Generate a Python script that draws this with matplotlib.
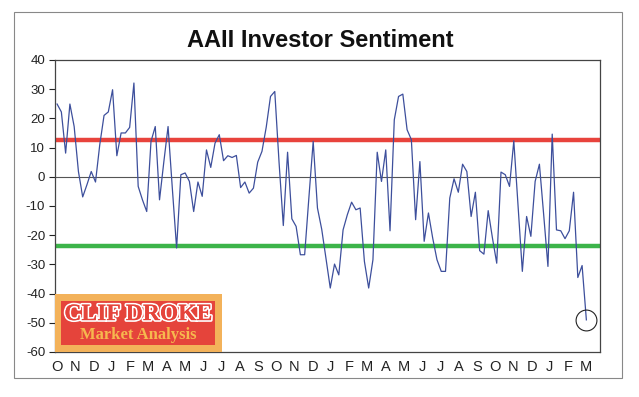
import matplotlib
matplotlib.use("Agg")
import matplotlib.pyplot as plt
import matplotlib.patches as patches
import matplotlib.patheffects as pe
import numpy as np

plt.rcParams['font.family'] = ['Liberation Sans', 'DejaVu Sans']
plt.rcParams['axes.unicode_minus'] = False

# weekly AAII bull-bear spread
sentiment = [
    24.9, 22.2, 8.1, 24.9, 17.2, 1.8, -6.9, -2.7, 1.8, -1.8,
    11.0, 21.0, 22.2, 29.8, 7.2, 15.0, 15.0, 16.9, 32.1, -3.3,
    -7.9, -11.9, 12.1, 17.2, -7.9, 5.0, 17.2, -4.0, -24.4, 0.7,
    1.3, -1.6, -11.9, -1.8, -6.7, 9.2, 3.2, 11.5, 14.4, 5.5,
    7.2, 6.6, 7.3, -3.7, -1.8, -5.6, -3.9, 5.0, 8.7, 17.0,
    27.5, 29.2, 5.0, -16.7, 8.4, -14.4, -17.0, -26.7, -26.7, -7.0,
    12.1, -10.7, -18.0, -28.0, -38.1, -29.9, -33.6, -18.2, -13.0, -8.7,
    -11.3, -10.7, -29.0, -38.1, -28.4, 8.4, -1.6, 9.2, -18.5, 19.5,
    27.5, 28.3, 16.1, 12.7, -14.7, 5.2, -22.1, -12.4, -21.0, -28.4,
    -32.4, -32.4, -7.3, -0.7, -5.3, 4.3, 1.8, -13.6, -5.3, -25.3,
    -26.5, -11.6, -21.0, -29.6, 1.6, 0.7, -3.3, 12.3, -10.0, -32.4,
    -13.6, -20.4, -1.6, 4.3, -13.0, -30.7, 14.6, -18.2, -18.5, -21.2,
    -18.5, -5.3, -34.5, -30.4, -49.0,
]
months = list("ONDJFMAMJJASONDJFMAMJJASONDJFM")
upper_band = 12.6
lower_band = -23.7

fig = plt.figure(figsize=(6.39, 3.97), dpi=100)
ax = fig.add_axes([0.086, 0.1134, 0.853, 0.7356])

weeks = np.arange(len(sentiment))
ax.axhline(0, color='#555555', lw=0.8, zorder=1)
ax.axhline(upper_band, color='#e8433c', lw=3.2, zorder=2)
ax.axhline(lower_band, color='#3cb44a', lw=3.2, zorder=2)
ax.plot(weeks, sentiment, color='#3d4f9c', lw=0.9, zorder=3)
ax.plot(weeks[-1:], sentiment[-1:], 'o', ms=15, mfc='none', mec='#222222', mew=0.8, zorder=4)

ax.set_ylim(-60, 40)
ax.set_yticks(np.arange(-60, 41, 10))
ax.set_xlim(-0.5, 127.2)
ax.set_xticks(np.linspace(0, len(sentiment) - 1, len(months)))
ax.set_xticklabels(months)
ax.tick_params(axis='x', length=0, pad=6, labelsize=10.5, colors='#222222')
ax.tick_params(axis='y', length=4, width=0.8, pad=3, labelsize=9.5, colors='#222222')
for s in ax.spines.values():
    s.set_color('#444444')
    s.set_linewidth(0.9)

fig.text(0.502, 0.899, 'AAII Investor Sentiment', ha='center', va='center',
         fontsize=17, fontweight='bold', color='#111111')

# logo box in the lower left corner
ax.add_patch(patches.Rectangle((0.0, 0.0), 0.306, 0.2, transform=ax.transAxes,
                               facecolor='#f3b25a', edgecolor='none', zorder=5))
ax.add_patch(patches.Rectangle((0.012, 0.025), 0.282, 0.15, transform=ax.transAxes,
                               facecolor='#e5443b', edgecolor='none', zorder=6))
ax.text(0.153, 0.128, 'CLIF DROKE', transform=ax.transAxes, ha='center', va='center',
        family=['Liberation Serif', 'DejaVu Serif'], fontsize=17, fontweight='bold',
        color='#e5443b', zorder=7,
        path_effects=[pe.withStroke(linewidth=2.5, foreground='white'), pe.Normal()])
ax.text(0.153, 0.058, 'Market Analysis', transform=ax.transAxes, ha='center', va='center',
        family=['Liberation Serif', 'DejaVu Serif'], fontsize=12, fontweight='bold',
        color='#f6b84e', zorder=7)

# outer frame
fig.patches.append(patches.Rectangle((0.022, 0.048), 0.952, 0.922, transform=fig.transFigure,
                                     fill=False, edgecolor='#888888', lw=0.8))

fig.savefig('out.png', dpi=100)
